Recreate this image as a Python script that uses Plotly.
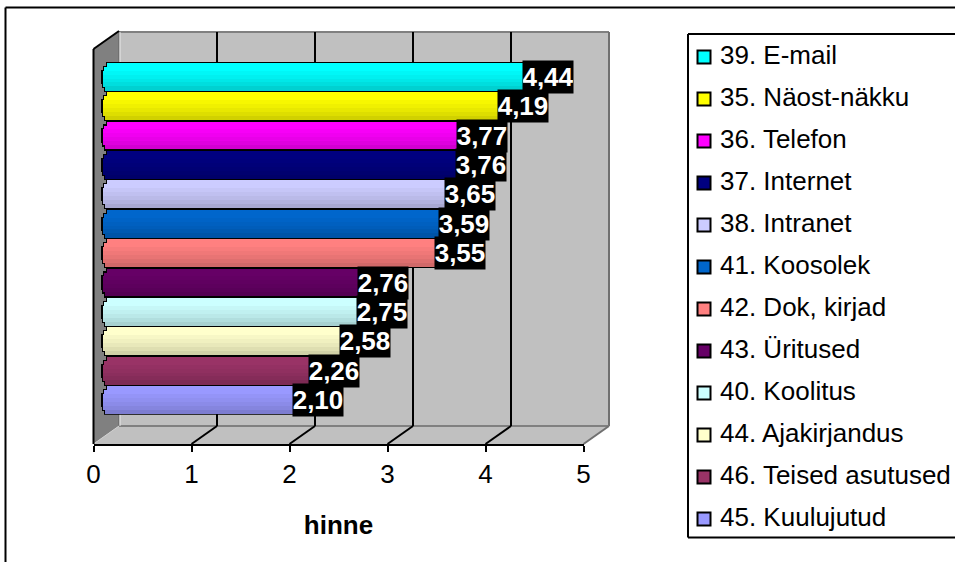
import plotly.graph_objects as go

CATEGORIES = ["39. E-mail", "35. Näost-näkku", "36. Telefon", "37. Internet", "38. Intranet",
              "41. Koosolek", "42. Dok, kirjad", "43. Üritused", "40. Koolitus",
              "44. Ajakirjandus", "46. Teised asutused", "45. Kuulujutud"]
VALUES = [4.44, 4.19, 3.77, 3.76, 3.65, 3.59, 3.55, 2.76, 2.75, 2.58, 2.26, 2.10]
COLORS = ["#00FFFF", "#FFFF00", "#FF00FF", "#000080", "#CCCCFF", "#0066CC",
          "#FF8080", "#660066", "#CCFFFF", "#FFFFCC", "#993366", "#9999FF"]
TICKS = [0, 1, 2, 3, 4, 5]
AXIS_TITLE = "hinne"

W, H = 955, 562
FONT = "Liberation Sans, Arial, sans-serif"

# Layout of the pseudo-3D box, in page pixels
X0, X5 = 93.5, 583.5
UNIT = (X5 - X0) / 5
DEPTH_X, DEPTH_Y = 25.5, 18
FRONT_Y, BACK_Y, TOP_Y = 444, 426, 32
BAR_SHIFT = 7.5
ROW_TOP, ROW_PX = 62, 29.4


def fx(px):
    return px / W


def fy(px):
    return 1 - px / H


def domx(shift):
    return [fx(X0 + shift), fx(X5 + shift)]


def shade(color, k):
    r, g, b = (int(color[i:i + 2], 16) for i in (1, 3, 5))
    return f"rgb({r * k:.0f},{g * k:.0f},{b * k:.0f})"


fig = go.Figure()

# Empty traces keep the front axis and the back wall grid on the page
fig.add_trace(go.Scatter(x=TICKS, y=[0] * len(TICKS), mode="none", xaxis="x", yaxis="y",
                         showlegend=False, hoverinfo="skip"))
fig.add_trace(go.Scatter(x=TICKS, y=[0] * len(TICKS), mode="none", xaxis="x2", yaxis="y2",
                         showlegend=False, hoverinfo="skip"))

# Horizontal banding and a chamfered left cap make the bars look cylindrical
BAND_SHADES = [1.0, 1.0, 0.97, 0.94, 0.91, 0.87, 0.82]
BAND_INSET = [4.5, 1.5, 0, 0, 0, 0.5, 2.5]
ROWS = list(range(len(VALUES)))
band_px = (ROW_PX - 2) / len(BAND_SHADES)
for outline in (True, False):
    for b, (k, inset) in enumerate(zip(BAND_SHADES, BAND_INSET)):
        off_px = -(ROW_PX - 2) / 2 + (b + 0.5) * band_px
        height = band_px + (2.6 if outline else 0.3)
        start = (inset + (0 if outline else 1.5)) / UNIT
        fig.add_trace(go.Bar(
            y=[r + off_px / ROW_PX for r in ROWS],
            x=[v - start for v in VALUES],
            base=[start] * len(VALUES),
            width=height / ROW_PX,
            orientation="h",
            marker=dict(color="#000000" if outline else [shade(c, k) for c in COLORS], line_width=0),
            xaxis="x3", yaxis="y3", showlegend=False, hoverinfo="skip",
        ))

# Legend swatches
fig.add_trace(go.Scatter(
    x=[0] * len(CATEGORIES), y=ROWS, mode="markers",
    marker=dict(symbol="square", size=13, color=COLORS, line=dict(color="#000000", width=2)),
    xaxis="x4", yaxis="y4", showlegend=False, hovertext=CATEGORIES, hoverinfo="text",
))

shapes = []


def poly(points, fill, line=None, width=0):
    path = "M" + "L".join(f"{fx(x)},{fy(y)}" for x, y in points) + "Z"
    shapes.append(dict(type="path", path=path, xref="paper", yref="paper", layer="below",
                       fillcolor=fill, line=dict(color=line or fill, width=width)))


def seg(x0, y0, x1, y1, color="#000000", width=2, layer="below"):
    shapes.append(dict(type="line", xref="paper", yref="paper", layer=layer,
                       x0=fx(x0), y0=fy(y0), x1=fx(x1), y1=fy(y1),
                       line=dict(color=color, width=width)))


# Back wall, floor and side wall
poly([(X0 + DEPTH_X, TOP_Y), (X5 + DEPTH_X, TOP_Y), (X5 + DEPTH_X, BACK_Y), (X0 + DEPTH_X, BACK_Y)], "#C0C0C0")
poly([(X0, FRONT_Y), (X0 + DEPTH_X, BACK_Y), (X5 + DEPTH_X, BACK_Y), (X5, FRONT_Y)], "#C0C0C0")
poly([(X0, 49), (X0 + DEPTH_X, 31), (X0 + DEPTH_X, BACK_Y), (X0, FRONT_Y)], "#808080")
seg(X0 + DEPTH_X, TOP_Y, X5 + DEPTH_X, TOP_Y, "#808080")
seg(X5 + DEPTH_X, TOP_Y, X5 + DEPTH_X, BACK_Y, "#707070")
seg(X0 + DEPTH_X, BACK_Y, X5 + DEPTH_X, BACK_Y, "#808080")
seg(X5, FRONT_Y, X5 + DEPTH_X, BACK_Y, "#707070")
seg(X0 + DEPTH_X, TOP_Y, X0 + DEPTH_X, BACK_Y, "#606060", 1)
seg(X0 + DEPTH_X + 1, TOP_Y, X0 + DEPTH_X + 1, BACK_Y, "#E8E8E8", 1)
seg(X0, FRONT_Y, X0 + DEPTH_X, BACK_Y, "#D0D0D0", 1)
seg(X0, 49, X0 + DEPTH_X, 31, "#000000", 2)
seg(X0, 49, X0, FRONT_Y, "#000000", 2)
for t in TICKS[1:-1]:
    px = X0 + t * UNIT
    seg(px, FRONT_Y, px + DEPTH_X, BACK_Y)

# Outer frame and legend frame stay open on the right, where the page ends
seg(5.5, 7.5, W, 7.5)
seg(5.5, 7.5, 5.5, H)
seg(688, 34, W, 34)
seg(688, 34, 688, 537.5)
seg(688, 537.5, W, 537.5)

annotations = []
for i, v in enumerate(VALUES):
    annotations.append(dict(
        x=v, y=i, xref="x3", yref="y3", text=f"{v:.2f}".replace(".", ","),
        xanchor="left", yanchor="middle", xshift=-14.5, showarrow=False,
        width=50, height=32, bgcolor="#000000", borderpad=0, align="center",
        font=dict(family=FONT, size=26, color="#FFFFFF", weight="bold"),
    ))
for i, name in enumerate(CATEGORIES):
    annotations.append(dict(
        x=1, y=i, xref="x4", yref="y4", text=name,
        xanchor="left", yanchor="middle", xshift=-1, yshift=2, showarrow=False, borderpad=0,
        font=dict(family=FONT, size=26, color="#000000"),
    ))

hidden = dict(visible=False, fixedrange=True)
fig.update_layout(
    width=W, height=H, autosize=False,
    margin=dict(l=0, r=0, t=0, b=0),
    paper_bgcolor="#FFFFFF", plot_bgcolor="rgba(0,0,0,0)",
    barmode="overlay", bargap=0,
    font=dict(family=FONT, size=24, color="#000000"),
    shapes=shapes, annotations=annotations,
    # Front edge of the floor: carries the value ticks and the axis title
    xaxis=dict(domain=domx(0), range=[0, 5], anchor="y", tickvals=TICKS, automargin=False,
               ticks="outside", ticklen=6, tickwidth=2, tickcolor="#000000",
               showline=True, linecolor="#000000", linewidth=2, showgrid=False, zeroline=False,
               tickfont=dict(family=FONT, size=26),
               title=dict(text=AXIS_TITLE, standoff=28,
                          font=dict(family=FONT, size=26, weight="bold"))),
    yaxis=dict(domain=[fy(FRONT_Y), fy(TOP_Y)], range=[0, 1], automargin=False, **hidden),
    # Back wall gridlines
    xaxis2=dict(domain=domx(DEPTH_X), range=[0, 5], anchor="y2", tickvals=TICKS[1:-1],
                showgrid=True, gridcolor="#000000", gridwidth=2, zeroline=False,
                showline=False, ticks="", showticklabels=False, fixedrange=True),
    yaxis2=dict(domain=[fy(BACK_Y), fy(TOP_Y)], range=[0, 1], anchor="x2", **hidden),
    # Bars stand part way into the box
    xaxis3=dict(domain=domx(BAR_SHIFT), range=[0, 5], anchor="y3", **hidden),
    yaxis3=dict(domain=[fy(ROW_TOP + ROW_PX * len(VALUES)), fy(ROW_TOP)],
                range=[len(VALUES) - 0.5, -0.5], anchor="x3", **hidden),
    # Legend column
    xaxis4=dict(domain=[fx(688), fx(720)], range=[-1, 1], anchor="y4", **hidden),
    yaxis4=dict(domain=[fy(540), fy(36)], range=[len(VALUES) - 0.5, -0.5], anchor="x4", **hidden),
)

fig.write_html("out.html")
